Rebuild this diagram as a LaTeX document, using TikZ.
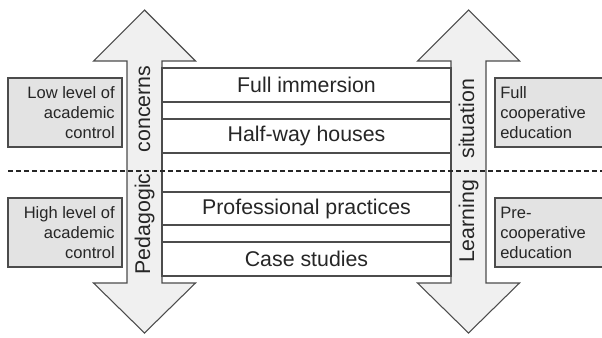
\documentclass[tikz,border=0pt]{standalone}
\usepackage{fontspec}
\setmainfont{Liberation Sans}
\begin{document}
\begin{tikzpicture}[x=0.75pt,y=0.75pt,
        outline/.style={draw=black!70,line width=0.8pt},
        bigarrow/.style={outline,fill=gray!12},
        sidebox/.style={outline,fill=gray!22},
        rowtext/.style={font=\fontsize{16}{19}\selectfont,text=black!85},
        sidetext/.style={font=\fontsize{12.4}{15}\selectfont,text=black!85,inner sep=0pt},
        divider/.style={line width=1.5pt,dash pattern=on 4pt off 2pt,black!85}]
        \useasboundingbox (0,0) rectangle (602,337);
        % Double-headed arrows
        \foreach \cx in {144.5,468.5} {
            \draw[bigarrow] (\cx,327) -- (\cx+51,276) -- (\cx+17.5,276) -- (\cx+17.5,54)
                -- (\cx+51,54) -- (\cx,4) -- (\cx-51,54) -- (\cx-17.5,54)
                -- (\cx-17.5,276) -- (\cx-51,276) -- cycle;
        }
        \node[rowtext,rotate=90] (pedlabel) at (144.5,167) {Pedagogic\quad concerns};
        \node[rowtext,rotate=90] (learnlabel) at (468.5,166) {Learning\quad situation};
        % Table between the shafts
        \draw[outline,fill=white] (162,61) rectangle (451,269);
        \foreach \y in {235,218,184,145,112,95} {
            \draw[outline] (162,\y) -- (451,\y);
        }
        \node[rowtext] (rowfull) at (306.5,252) {Full immersion};
        \node[rowtext] (rowhalf) at (306.5,201) {Half-way houses};
        \node[rowtext] (rowprof) at (306.5,128.5) {Professional practices};
        \node[rowtext] (rowcase) at (306.5,78) {Case studies};
        % Side boxes
        \draw[sidebox] (8,190) rectangle (122,259);
        \draw[sidebox] (8,70) rectangle (122,139);
        \draw[sidebox] (495,190) rectangle (610,259);
        \draw[sidebox] (495,70) rectangle (610,139);
        \node[sidetext,align=right,anchor=east] (lowctrl) at (115,224.5) {Low level of\\academic\\control};
        \node[sidetext,align=right,anchor=east] (highctrl) at (115,104.5) {High level of\\academic\\control};
        \node[sidetext,align=left,anchor=west] (fullcoop) at (500,224.5) {Full\\cooperative\\education};
        \node[sidetext,align=left,anchor=west] (precoop) at (500,104.5) {Pre-\\cooperative\\education};
        % Dividing line
        \draw[divider] (8,166) -- (602,166);
    \end{tikzpicture}
\end{document}
